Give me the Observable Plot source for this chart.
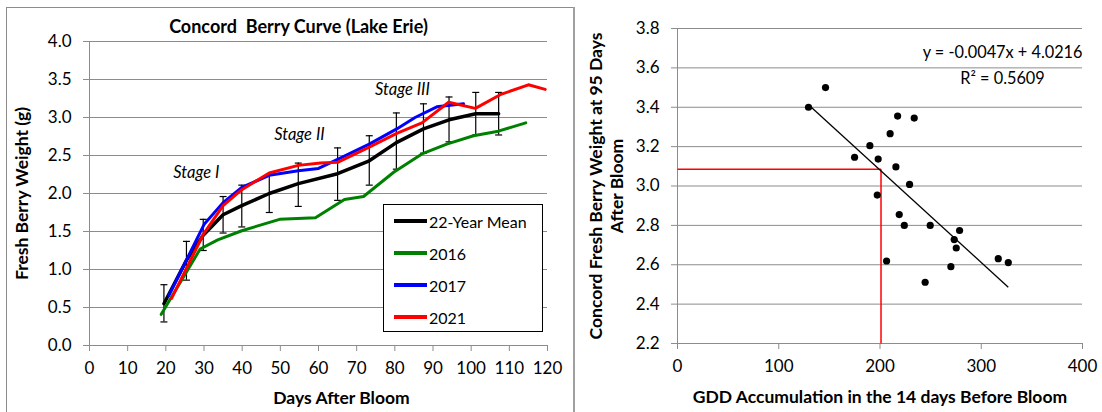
<!DOCTYPE html>
<html><head><meta charset="utf-8">
<script src="https://cdn.jsdelivr.net/npm/d3@7"></script>
<script src="https://cdn.jsdelivr.net/npm/@observablehq/plot@0.6"></script>
<style>
body{margin:0;background:#fff;font-family:Lato,sans-serif;}
#wrap{position:relative;width:1102px;height:412px;overflow:hidden;background:#fff;}
#left,#right{position:absolute;top:0;}
#left{left:0;} #right{left:575px;}
#box{position:absolute;left:6px;top:7px;width:566px;height:430px;border:1px solid #8c8c8c;}
#sep{position:absolute;left:573px;top:7px;width:2px;height:420px;background:#a0a0a0;}
#legend{position:absolute;left:383px;top:204px;width:158px;height:126px;border:1px solid #000;background:#fff;font-size:16px;color:#000;}
.row{position:absolute;left:10px;height:20px;display:flex;align-items:center;}
.sw{width:33px;height:4px;margin-right:2px;}
</style></head><body>
<div id="wrap"><div id="box"></div><div id="sep"></div><div id="left"></div><div id="right"></div><div id="legend"></div></div>
<script>
// ---- Left chart data: Concord berry curve ----
const meanDays = [19.5, 25.4, 29.8, 35, 39.9, 47.1, 54.7, 65, 73.3, 80.4, 87.5, 94.2, 101.2, 107.2];
const meanWt   = [0.55, 1.12, 1.45, 1.72, 1.84, 2.00, 2.13, 2.26, 2.43, 2.67, 2.85, 2.97, 3.05, 3.05];
const errLow   = [0.31, 0.86, 1.25, 1.48, 1.56, 1.75, 1.83, 1.91, 2.11, 2.32, 2.53, 2.68, 2.77, 2.77];
const errHigh  = [0.80, 1.37, 1.66, 1.96, 2.11, 2.25, 2.40, 2.60, 2.76, 3.06, 3.18, 3.27, 3.33, 3.33];

const days2016 = [18.8, 29, 33.6, 39.9, 49.8, 59.2, 66.8, 71.8, 79.7, 87.1, 93.6, 100.6, 107.1, 114.3];
const wt2016   = [0.41, 1.27, 1.39, 1.51, 1.66, 1.68, 1.92, 1.96, 2.28, 2.52, 2.65, 2.76, 2.82, 2.93];

const days2017 = [20.8, 30.1, 35, 39.9, 47.1, 54.7, 60, 65, 73.3, 80.5, 85.3, 91, 98];
const wt2017   = [0.66, 1.60, 1.88, 2.08, 2.24, 2.30, 2.33, 2.45, 2.65, 2.85, 3.00, 3.14, 3.18];

const days2021 = [21.5, 29.9, 35, 39.9, 47.1, 54.7, 60.5, 65, 73.3, 80.5, 87.1, 94.1, 101.1, 107.6, 115, 119.4];
const wt2021   = [0.62, 1.47, 1.84, 2.05, 2.27, 2.37, 2.40, 2.41, 2.61, 2.79, 2.93, 3.20, 3.12, 3.30, 3.43, 3.37];

const seriesNames  = ["22-Year Mean", "2016", "2017", "2021"];
const seriesColors = ["#000000", "#008000", "#0000ff", "#ff0000"];

const stageLabels = ["Stage I", "Stage II", "Stage III"];
const stageDays   = [28, 55, 82];
const stageWt     = [2.28, 2.78, 3.36];

const leftXTicks = [0,10,20,30,40,50,60,70,80,90,100,110,120];
const leftYTicks = [0,0.5,1,1.5,2,2.5,3,3.5,4];
const leftTitle = "Concord\u00a0 Berry Curve (Lake Erie)";
const leftXLabel = "Days After Bloom";
const leftYLabel = "Fresh Berry Weight (g)";

// ---- Right chart data: GDD vs berry weight ----
const gdd   = [129.4, 146.2, 174.9, 190, 217.4, 233.8, 210, 198.2, 215.7, 229.2, 197.3, 219, 224, 249.6, 278.6, 273.3, 275.3, 206.5, 316.8, 326.7, 270, 244.6];
const wt95  = [3.40, 3.50, 3.146, 3.205, 3.355, 3.345, 3.266, 3.137, 3.097, 3.008, 2.954, 2.855, 2.80, 2.80, 2.774, 2.728, 2.685, 2.619, 2.631, 2.611, 2.59, 2.511];
const trendX = [129.4, 326.7];
const trendY = [3.413, 2.486];
const refGDD = 201;
const refWt  = 3.085;
const rightXTicks = [0,100,200,300,400];
const rightYTicks = [2.2,2.4,2.6,2.8,3.0,3.2,3.4,3.6,3.8];
const eqText = "y = -0.0047x + 4.0216";
const r2Text = "R\u00b2 = 0.5609";
const rightXLabel = "GDD Accumulation in the 14 days Before Bloom";
const rightYLabel = "Concord Fresh Berry Weight at 95 Days\nAfter Bloom";

// ---- build tables ----
const toRows = (xs, ys) => xs.map((d, i) => ({d, w: ys[i]}));
const meanRows = meanDays.map((d, i) => ({d, w: meanWt[i], lo: errLow[i], hi: errHigh[i]}));
const rows16 = toRows(days2016, wt2016);
const rows17 = toRows(days2017, wt2017);
const rows21 = toRows(days2021, wt2021);
const stageRows = stageLabels.map((t, i) => ({t, d: stageDays[i], w: stageWt[i]}));
const scatterRows = gdd.map((g, i) => ({g, w: wt95[i]}));
const trendRows = [{x1: trendX[0], y1: trendY[0], x2: trendX[1], y2: trendY[1]}];
const refRows = [
  {x1: rightXTicks[0], y1: refWt, x2: refGDD, y2: refWt},
  {x1: refGDD, y1: rightYTicks[0], x2: refGDD, y2: refWt}
];

const grid = "#8c8c8c";
const capSymbol = {draw(ctx) { ctx.moveTo(-3.5, 0); ctx.lineTo(3.5, 0); }};
const baseStyle = {fontFamily: "Lato, sans-serif", fontSize: "17px", color: "#000", background: "transparent", overflow: "visible"};
const labelSize = 17.5;

const leftPlot = Plot.plot({
  width: 575, height: 412,
  marginLeft: 89, marginRight: 28, marginTop: 41, marginBottom: 67,
  x: {domain: [0, 120]}, y: {domain: [0, 4]},
  style: baseStyle,
  marks: [
    Plot.gridY(leftYTicks, {stroke: grid, strokeOpacity: 1}),
    Plot.ruleX([0], {stroke: grid}),
    Plot.ruleY([0], {stroke: grid}),
    Plot.axisY(leftYTicks, {tickFormat: d3.format(".1f"), tickSize: 6, tickPadding: 12, stroke: grid, fill: "#000", label: null, fontSize: 17}),
    Plot.axisX(leftXTicks, {tickSize: 6, tickPadding: 10, stroke: grid, fill: "#000", label: null, fontSize: 17}),
    Plot.ruleX(meanRows, {x: "d", y1: "lo", y2: "hi", stroke: "#000", strokeWidth: 1.2}),
    Plot.dot(meanRows, {x: "d", y: "lo", symbol: capSymbol, r: 3, stroke: "#000", strokeWidth: 1.2, fill: "none"}),
    Plot.dot(meanRows, {x: "d", y: "hi", symbol: capSymbol, r: 3, stroke: "#000", strokeWidth: 1.2, fill: "none"}),
    Plot.line(meanRows, {x: "d", y: "w", stroke: seriesColors[0], strokeWidth: 3.5}),
    Plot.line(rows16, {x: "d", y: "w", stroke: seriesColors[1], strokeWidth: 3}),
    Plot.line(rows17, {x: "d", y: "w", stroke: seriesColors[2], strokeWidth: 3}),
    Plot.line(rows21, {x: "d", y: "w", stroke: seriesColors[3], strokeWidth: 3}),
    Plot.text(stageRows, {x: "d", y: "w", text: "t", fontStyle: "italic", fontSize: 16.5}),
    Plot.text([leftTitle], {text: d => d, frameAnchor: "top", dy: -14, dx: -20, lineAnchor: "middle", textAnchor: "middle", fontWeight: "bold", fontSize: 18}),
    Plot.text([leftXLabel], {text: d => d, frameAnchor: "bottom", dy: 53, dx: 23, lineAnchor: "middle", textAnchor: "middle", fontWeight: "bold", fontSize: labelSize}),
    Plot.text([leftYLabel], {text: d => d, frameAnchor: "left", dx: -67, rotate: -90, lineAnchor: "middle", textAnchor: "middle", fontWeight: "bold", fontSize: labelSize})
  ]
});
document.getElementById("left").appendChild(leftPlot);

const rightPlot = Plot.plot({
  width: 527, height: 412,
  marginLeft: 102, marginRight: 20, marginTop: 28, marginBottom: 69,
  x: {domain: [0, 400]}, y: {domain: [2.2, 3.8]},
  style: baseStyle,
  marks: [
    Plot.gridY(rightYTicks, {stroke: grid, strokeOpacity: 1}),
    Plot.ruleX([0], {stroke: grid}),
    Plot.ruleY([2.2], {stroke: grid}),
    Plot.axisY(rightYTicks, {tickFormat: d3.format(".1f"), tickSize: 6, tickPadding: 12, stroke: grid, fill: "#000", label: null, fontSize: 17}),
    Plot.axisX(rightXTicks, {tickSize: 6, tickPadding: 10, stroke: grid, fill: "#000", label: null, fontSize: 17}),
    Plot.link(refRows, {x1: "x1", y1: "y1", x2: "x2", y2: "y2", stroke: "#ff0000", strokeWidth: 1.5}),
    Plot.link(trendRows, {x1: "x1", y1: "y1", x2: "x2", y2: "y2", stroke: "#000", strokeWidth: 1.3}),
    Plot.dot(scatterRows, {x: "g", y: "w", r: 3.6, fill: "#000"}),
    Plot.text([eqText], {text: d => d, frameAnchor: "top-right", dy: 24, lineAnchor: "middle", textAnchor: "end", fontSize: 16.3}),
    Plot.text([r2Text], {text: d => d, frameAnchor: "top-right", dy: 50, dx: -80, lineAnchor: "middle", textAnchor: "middle", fontSize: 16.3}),
    Plot.text([rightXLabel], {text: d => d, frameAnchor: "bottom", dy: 54, lineAnchor: "middle", textAnchor: "middle", fontWeight: "bold", fontSize: labelSize}),
    Plot.text([rightYLabel], {text: d => d, frameAnchor: "left", dx: -71.5, rotate: -90, lineAnchor: "middle", textAnchor: "middle", lineHeight: 1.2, fontWeight: "bold", fontSize: labelSize})
  ]
});
document.getElementById("right").appendChild(rightPlot);

// ---- legend ----
const legend = document.getElementById("legend");
const rowTops = [6, 38, 70, 102];
seriesNames.forEach((name, i) => {
  const row = document.createElement("div");
  row.className = "row";
  row.style.top = rowTops[i] + "px";
  const sw = document.createElement("div");
  sw.className = "sw";
  sw.style.background = seriesColors[i];
  const label = document.createElement("span");
  label.textContent = name;
  row.appendChild(sw); row.appendChild(label);
  legend.appendChild(row);
});
</script>
</body></html>
